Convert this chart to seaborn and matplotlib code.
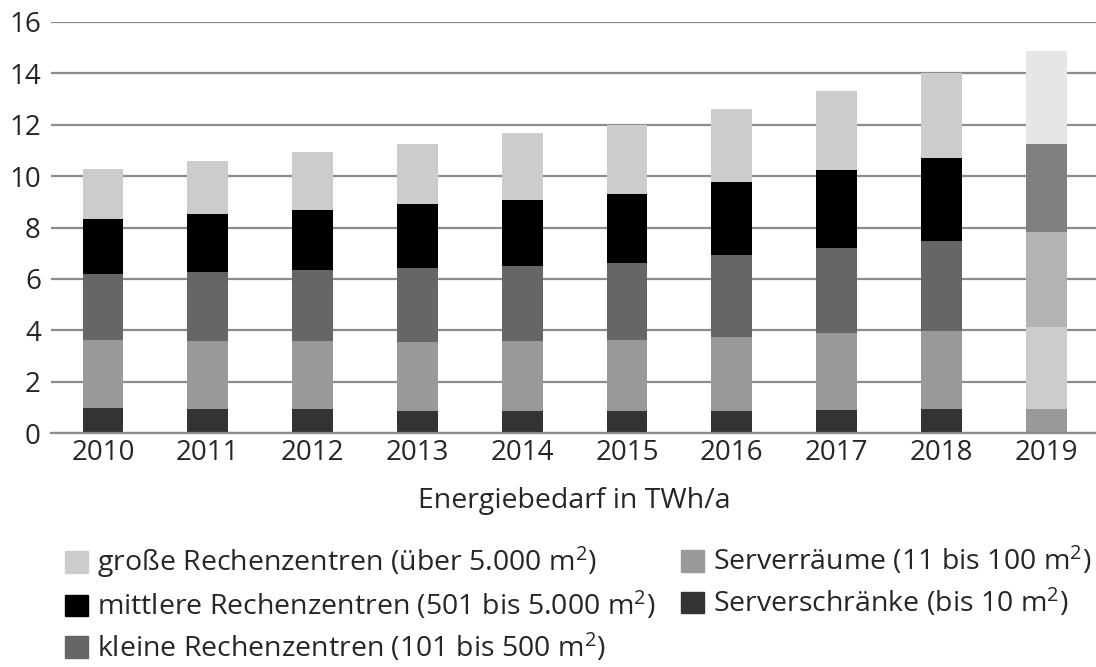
import numpy as np
import pandas as pd
import matplotlib
matplotlib.use("Agg")
import matplotlib.pyplot as plt
import seaborn as sns
from matplotlib.patches import Patch

years = ["2010", "2011", "2012", "2013", "2014", "2015", "2016", "2017", "2018", "2019"]

# Energiebedarf in TWh/a, Segmente von unten nach oben
serverschraenke = [0.97, 0.92, 0.92, 0.87, 0.87, 0.87, 0.87, 0.91, 0.92, 0.92]
serverraeume = [2.65, 2.66, 2.66, 2.68, 2.71, 2.75, 2.86, 2.98, 3.06, 3.22]
kleine_rz = [2.57, 2.67, 2.75, 2.86, 2.93, 2.99, 3.18, 3.32, 3.49, 3.67]
mittlere_rz = [2.14, 2.26, 2.36, 2.50, 2.58, 2.70, 2.85, 3.04, 3.22, 3.43]
grosse_rz = [1.94, 2.09, 2.23, 2.35, 2.58, 2.67, 2.86, 3.07, 3.34, 3.64]

labels = [
    "Serverschränke (bis 10 m$^2$)",
    "Serverräume (11 bis 100 m$^2$)",
    "kleine Rechenzentren (101 bis 500 m$^2$)",
    "mittlere Rechenzentren (501 bis 5.000 m$^2$)",
    "große Rechenzentren (über 5.000 m$^2$)",
]
colors = ["#333333", "#999999", "#666666", "#000000", "#cccccc"]
# 2019 is drawn with a different grey scheme in the original
colors_2019 = ["#999999", "#cccccc", "#b3b3b3", "#808080", "#e6e6e6"]

series = [serverschraenke, serverraeume, kleine_rz, mittlere_rz, grosse_rz]
cum = np.cumsum(np.array(series), axis=0)

sns.set_style("white")
plt.rcParams["font.family"] = ["Open Sans", "DejaVu Sans"]
plt.rcParams["mathtext.fontset"] = "custom"
plt.rcParams["mathtext.rm"] = "Open Sans"
plt.rcParams["mathtext.it"] = "Open Sans:italic"
plt.rcParams["mathtext.bf"] = "Open Sans:bold"
plt.rcParams["mathtext.default"] = "regular"

fig = plt.figure(figsize=(10.96, 6.67), dpi=100)
ax = fig.add_axes([50.6 / 1096, (667 - 433) / 667, 1048 / 1096, 411 / 667])

# overlapping bars, tallest first
for i in range(len(series) - 1, -1, -1):
    df = pd.DataFrame({"year": years, "value": cum[i]})
    sns.barplot(data=df, x="year", y="value", color=colors[i], saturation=1,
                width=0.39, linewidth=0, errorbar=None, ax=ax)

n = len(years)
for k, i in enumerate(range(len(series) - 1, -1, -1)):
    ax.patches[k * n + n - 1].set_facecolor(colors_2019[i])

ax.set_xlim(-0.5, 9.5)
ax.set_ylim(0, 16)
ax.set_yticks(range(0, 17, 2))
ax.set_axisbelow(True)
ax.yaxis.grid(True, color="#8c8c8c", linewidth=1.6)
ax.xaxis.grid(False)
for s in ["left", "top", "right"]:
    ax.spines[s].set_visible(False)
ax.spines["bottom"].set_color("#8c8c8c")
ax.spines["bottom"].set_linewidth(1.6)
ax.set_xticks(np.arange(-0.5, 10, 1), minor=True)
ax.tick_params(axis="x", which="minor", length=5, width=1.3, color="#8c8c8c", direction="out")
ax.tick_params(axis="x", which="major", length=0, pad=4, labelsize=20)
ax.tick_params(axis="y", length=0, pad=7, labelsize=20)
ax.set_ylabel("")
ax.set_xlabel("Energiebedarf in TWh/a", fontsize=20.5, labelpad=15)

legend_kw = dict(frameon=False, fontsize=20.5, handlelength=0.81, handleheight=0.81,
                 handletextpad=0.32, labelspacing=0.33, borderpad=0, borderaxespad=0,
                 loc="upper left")
col1 = [Patch(color=colors[i], label=labels[i]) for i in (4, 3, 2)]
col2 = [Patch(color=colors[i], label=labels[i]) for i in (1, 0)]
fig.legend(handles=col1, bbox_to_anchor=(65 / 1096, (667 - 545) / 667), **legend_kw)
fig.legend(handles=col2, bbox_to_anchor=(681 / 1096, (667 - 545) / 667), **legend_kw)

fig.savefig("out.png", dpi=100)
